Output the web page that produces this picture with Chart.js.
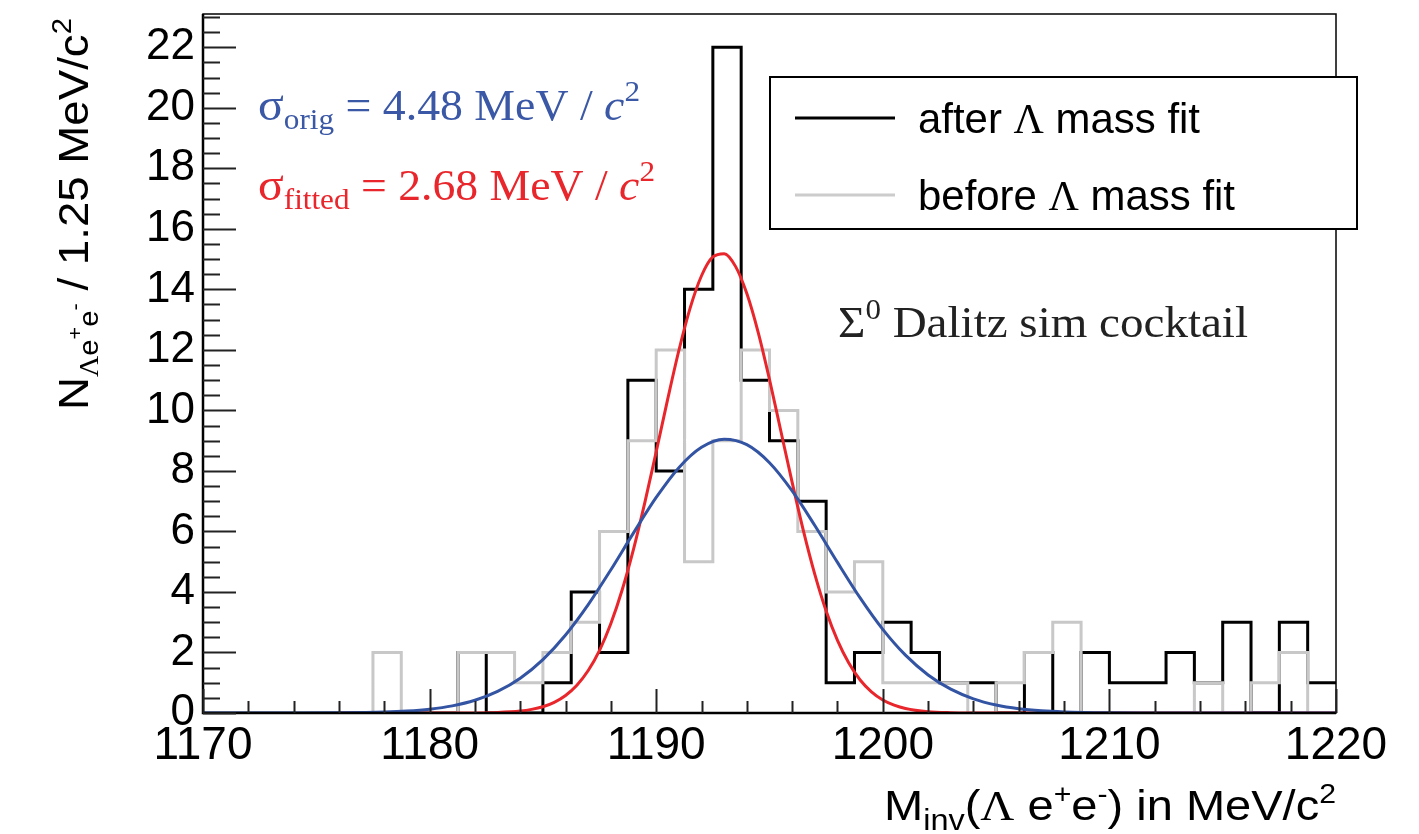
<!DOCTYPE html>
<html lang="en">
<head>
<meta charset="utf-8">
<title>Sigma0 Dalitz - Lambda mass fit</title>
<script src="https://cdn.jsdelivr.net/npm/chart.js@4.4.1/dist/chart.umd.min.js"></script>
<style>
  body { margin: 0; background: #fff; }
</style>
</head>
<body>
<div style="position: relative; width: 1419px; height: 834px;">
  <canvas id="hist" width="1419" height="834"></canvas>
</div>
<script>
// binning of both histograms (MeV/c^2)
var binLow = 1170, binWidth = 1.25;

// counts per 1.25 MeV bin, 1170 -> 1220 (40 bins)
var afterFit  = [0,0,0,0,0,0,0,0,0,2, 0,0,1,4,2,11,8,14,22,11, 9,7,1,2,3,2,1,1,0,2, 0,2,1,1,2,1,3,0,3,1];
var beforeFit = [0,0,0,0,0,0,2,0,0,2, 2,1,2,3,6,9,12,5,9,12, 10,6,4,5,1,1,1,0,1,2, 3,0,0,0,0,1,0,1,2,0];

// gaussian curves
var origX = [1170,1174,1176,1178,1179,1180,1181,1182,1183,1184,1185,1186,1187,1188,1189,1190,1191,1192,1193,1194,1195,1196,1197,1198,1199,1200,1201,1202,1203,1204,1205,1206,1207,1208,1210,1212,1220];
var origY = [0,0.001,0.006,0.031,0.064,0.126,0.236,0.421,0.713,1.150,1.765,2.578,3.581,4.734,5.953,7.123,8.108,8.781,9.048,8.869,8.272,7.340,6.196,4.977,3.803,2.764,1.911,1.258,0.787,0.469,0.266,0.143,0.073,0.036,0.007,0.001,0];

var fittedX = [1176,1180,1182,1183,1184,1184.5,1185,1185.5,1186,1186.5,1187,1187.5,1188,1188.5,1189,1189.5,1190,1190.5,1191,1191.5,1192,1192.5,1193,1193.5,1194,1194.5,1195,1195.5,1196,1196.5,1197,1197.5,1198,1198.5,1199,1199.5,1200,1200.5,1201,1202,1203,1204,1206,1220];
var fittedY = [0,0,0.004,0.018,0.065,0.119,0.208,0.354,0.580,0.918,1.403,2.072,2.957,4.072,5.416,6.960,8.635,10.35,11.98,13.39,14.45,15.07,15.18,14.76,13.86,12.58,11.02,9.32,7.62,6.01,4.58,3.37,2.40,1.65,1.09,0.70,0.43,0.26,0.149,0.045,0.012,0.003,0,0];

var SANS = '"Liberation Sans", Arial, sans-serif';
var SERIF = '"Liberation Serif", "Times New Roman", serif';

function histPoints(counts) {
    var pts = [];
    for (var i = 0; i < counts.length; i++) {
        pts.push({x: binLow + i * binWidth, y: counts[i]});
    }
    pts.push({x: binLow + counts.length * binWidth, y: counts[counts.length - 1]});
    return pts;
}
function curvePoints(xs, ys) {
    return xs.map(function (x, i) { return {x: x, y: ys[i]}; });
}

// text made of pieces (sub/superscripts), optionally squeezed to a width
function richText(ctx, parts, x, y, align, color, targetW) {
    var w = 0;
    parts.forEach(function (p) {
        ctx.font = p.f;
        p.w = ctx.measureText(p.t).width;
        w += p.w;
    });
    var sx = targetW ? targetW / w : 1;
    ctx.save();
    ctx.translate(align === 'right' ? x - w * sx : x, y);
    ctx.scale(sx, 1);
    ctx.textAlign = 'left';
    ctx.textBaseline = 'alphabetic';
    ctx.fillStyle = color || '#000';
    var cx = 0;
    parts.forEach(function (p) {
        ctx.font = p.f;
        ctx.fillText(p.t, cx, p.dy || 0);
        cx += p.w;
    });
    ctx.restore();
}

var decorations = {
    id: 'decorations',
    afterDatasetsDraw: function (chart) {
        var ctx = chart.ctx, a = chart.chartArea;
        var xs = chart.scales.x, ys = chart.scales.y;
        ctx.save();
        // frame
        ctx.strokeStyle = '#000';
        ctx.lineWidth = 1.5;
        ctx.strokeRect(a.left, a.top, a.right - a.left, a.bottom - a.top);
        ctx.lineWidth = 2.5;
        ctx.beginPath();
        ctx.moveTo(a.left, a.top); ctx.lineTo(a.left, a.bottom); ctx.lineTo(a.right, a.bottom);
        ctx.stroke();

        // inward ticks, root style
        ctx.strokeStyle = '#222';
        ctx.lineWidth = 2;
        ctx.beginPath();
        for (var v = 0; v <= 23; v += 0.5) {
            var py = Math.round(ys.getPixelForValue(v)) + 0.5;
            var len = (v % 2 === 0) ? 33 : 17;
            ctx.moveTo(a.left, py); ctx.lineTo(a.left + len, py);
        }
        for (var m = 1170; m <= 1220; m += 2) {
            var px = Math.round(xs.getPixelForValue(m)) + 0.5;
            var tl = (m % 10 === 0) ? 24 : 12;
            ctx.moveTo(px, a.bottom); ctx.lineTo(px, a.bottom - tl);
        }
        ctx.stroke();

        // axis titles
        richText(ctx, [
            {t: 'M', f: '42px ' + SANS},
            {t: 'inv', f: '29px ' + SANS, dy: 10},
            {t: '(', f: '42px ' + SANS},
            {t: 'Λ', f: '42px ' + SERIF},
            {t: ' e', f: '42px ' + SANS},
            {t: '+', f: '27px ' + SANS, dy: -17},
            {t: 'e', f: '42px ' + SANS},
            {t: '-', f: '27px ' + SANS, dy: -17},
            {t: ') in MeV/c', f: '42px ' + SANS},
            {t: '2', f: '27px ' + SANS, dy: -17}
        ], a.right, 820, 'right', '#000', 452);

        ctx.save();
        ctx.translate(88, 18);
        ctx.rotate(-Math.PI / 2);
        richText(ctx, [
            {t: 'N', f: '42px ' + SANS},
            {t: 'Λ', f: '27px ' + SERIF, dy: 10},
            {t: 'e', f: '27px ' + SANS, dy: 10},
            {t: '+', f: '20px ' + SANS, dy: -6},
            {t: 'e', f: '27px ' + SANS, dy: 10},
            {t: '-', f: '20px ' + SANS, dy: -6},
            {t: ' / 1.25 MeV/c', f: '42px ' + SANS},
            {t: '2', f: '27px ' + SANS, dy: -17}
        ], 0, 0, 'right', '#000', 392);
        ctx.restore();

        // fit widths
        richText(ctx, [
            {t: 'σ', f: '46px ' + SERIF},
            {t: 'orig', f: '30px ' + SERIF, dy: 9},
            {t: ' = 4.48 MeV', f: '44px ' + SERIF},
            {t: ' / ', f: '44px ' + SERIF},
            {t: 'c', f: 'italic 44px ' + SERIF},
            {t: '2', f: '30px ' + SERIF, dy: -19}
        ], 258, 120, 'left', '#3a58a6', 382);
        richText(ctx, [
            {t: 'σ', f: '46px ' + SERIF},
            {t: 'fitted', f: '30px ' + SERIF, dy: 9},
            {t: ' = 2.68 MeV', f: '44px ' + SERIF},
            {t: ' / ', f: '44px ' + SERIF},
            {t: 'c', f: 'italic 44px ' + SERIF},
            {t: '2', f: '30px ' + SERIF, dy: -19}
        ], 258, 200, 'left', '#e8262b', 397);

        richText(ctx, [
            {t: 'Σ', f: '44px ' + SERIF},
            {t: '0', f: '29px ' + SERIF, dy: -18},
            {t: ' Dalitz sim cocktail', f: '44px ' + SERIF}
        ], 838, 337, 'left', '#222', 410);

        // legend box
        ctx.fillStyle = '#fff';
        ctx.fillRect(770, 77, 587, 152);
        ctx.strokeStyle = '#000';
        ctx.lineWidth = 2;
        ctx.strokeRect(770, 77, 587, 152);
        ctx.lineWidth = 3;
        ctx.strokeStyle = '#000';
        ctx.beginPath(); ctx.moveTo(795, 118); ctx.lineTo(895, 118); ctx.stroke();
        ctx.strokeStyle = '#cccccc';
        ctx.beginPath(); ctx.moveTo(795, 195); ctx.lineTo(895, 195); ctx.stroke();
        richText(ctx, [
            {t: 'after ', f: '42px ' + SANS},
            {t: 'Λ', f: '42px ' + SERIF},
            {t: ' mass fit', f: '42px ' + SANS}
        ], 918, 133, 'left', '#000', 282);
        richText(ctx, [
            {t: 'before ', f: '42px ' + SANS},
            {t: 'Λ', f: '42px ' + SERIF},
            {t: ' mass fit', f: '42px ' + SANS}
        ], 918, 210, 'left', '#000', 317);
        ctx.restore();
    }
};

var ctx = document.getElementById('hist').getContext('2d');
new Chart(ctx, {
    type: 'line',
    data: {
        datasets: [
            {
                label: 'sigma orig',
                data: curvePoints(origX, origY),
                borderColor: '#3353a3',
                borderWidth: 3,
                cubicInterpolationMode: 'monotone',
                pointRadius: 0,
                order: 1
            },
            {
                label: 'sigma fitted',
                data: curvePoints(fittedX, fittedY),
                borderColor: '#e8262b',
                borderWidth: 3,
                cubicInterpolationMode: 'monotone',
                pointRadius: 0,
                order: 2
            },
            {
                label: 'before Λ mass fit',
                data: histPoints(beforeFit),
                borderColor: '#c8c8c8',
                borderWidth: 3,
                stepped: 'before',
                pointRadius: 0,
                order: 3
            },
            {
                label: 'after Λ mass fit',
                data: histPoints(afterFit),
                borderColor: '#000',
                borderWidth: 3,
                stepped: 'before',
                pointRadius: 0,
                order: 4
            }
        ]
    },
    options: {
        responsive: false,
        animation: false,
        layout: {padding: {top: 14, right: 83, left: 0, bottom: 0}},
        plugins: {legend: {display: false}, tooltip: {enabled: false}},
        scales: {
            x: {
                type: 'linear',
                min: 1170,
                max: 1220,
                grid: {display: false, drawTicks: false},
                border: {display: false},
                ticks: {
                    stepSize: 10,
                    color: '#000',
                    padding: 6,
                    maxRotation: 0,
                    font: {family: SANS, size: 46},
                    callback: function (v) { return String(v); }
                },
                afterFit: function (s) {
                    s.height = 121;
                    s.paddingLeft = 0; s.paddingRight = 0;
                }
            },
            y: {
                min: 0,
                max: 23.1,
                grid: {display: false, drawTicks: false},
                border: {display: false},
                ticks: {
                    stepSize: 2,
                    includeBounds: false,
                    color: '#000',
                    padding: 8,
                    font: {family: SANS, size: 44},
                    callback: function (v) { return String(v); }
                },
                afterFit: function (s) {
                    s.width = 203;
                    s.paddingTop = 0; s.paddingBottom = 0;
                }
            }
        }
    },
    plugins: [decorations]
});
</script>
</body>
</html>
